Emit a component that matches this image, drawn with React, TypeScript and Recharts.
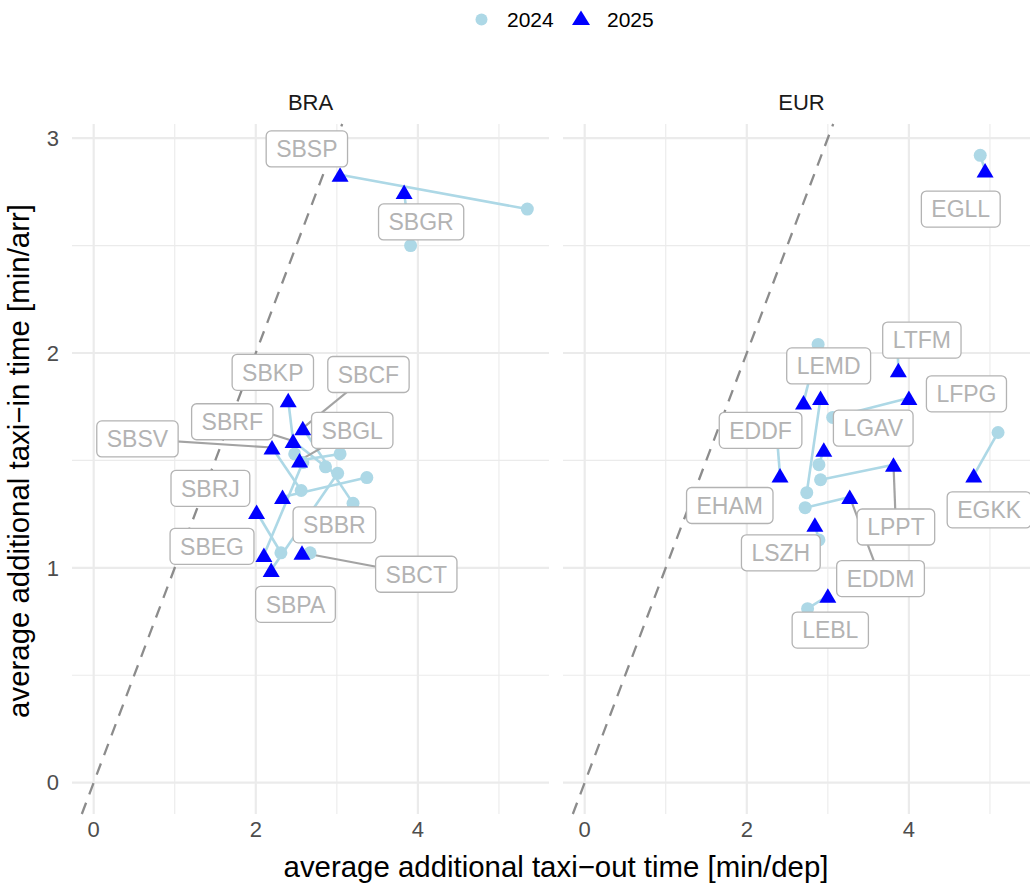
import React from 'react';
import { ComposedChart, Scatter, XAxis, YAxis, ReferenceLine } from 'recharts';

// ---- data ----
const BRA_AIRPORTS = ['SBSP', 'SBGR', 'SBKP', 'SBCF', 'SBRF', 'SBSV', 'SBGL', 'SBEG', 'SBPA', 'SBBR', 'SBRJ', 'SBCT'];
const BRA_X_2024 = [5.35, 3.91, 2.48, 3.2, 2.86, 2.56, 3.04, 2.58, 3.01, 3.37, 2.31, 2.67];
const BRA_Y_2024 = [2.67, 2.5, 1.53, 1.3, 1.47, 1.36, 1.53, 1.49, 1.44, 1.42, 1.07, 1.07];
const BRA_X_2025 = [3.04, 3.83, 2.4, 2.58, 2.46, 2.2, 2.54, 2.1, 2.19, 2.33, 2.01, 2.57];
const BRA_Y_2025 = [2.83, 2.75, 1.78, 1.65, 1.59, 1.56, 1.5, 1.06, 0.99, 1.33, 1.26, 1.07];
const BRA_LABEL_X = [2.63, 4.04, 2.21, 3.39, 1.71, 0.54, 3.19, 1.46, 2.49, 2.97, 1.44, 3.98];
const BRA_LABEL_Y = [2.95, 2.61, 1.91, 1.9, 1.68, 1.6, 1.64, 1.1, 0.83, 1.2, 1.37, 0.97];
const BRA_LEADERS = ['SBSV', 'SBRF', 'SBCF', 'SBGL', 'SBCT'];

const EUR_AIRPORTS = ['EGLL', 'LTFM', 'LEMD', 'LFPG', 'EDDF', 'EHAM', 'LGAV', 'LPPT', 'EDDM', 'EGKK', 'LSZH', 'LEBL'];
const EUR_X_2024 = [4.88, 3.86, 2.88, 3.06, 2.37, 2.74, 2.89, 2.91, 2.72, 5.1, 2.89, 2.75];
const EUR_Y_2024 = [2.92, 2.03, 2.04, 1.7, 1.62, 1.35, 1.48, 1.41, 1.28, 1.63, 1.13, 0.81];
const EUR_X_2025 = [4.94, 3.87, 2.7, 4.0, 2.41, 2.91, 2.95, 3.81, 3.27, 4.8, 2.84, 3.0];
const EUR_Y_2025 = [2.85, 1.92, 1.77, 1.79, 1.43, 1.79, 1.55, 1.48, 1.33, 1.43, 1.2, 0.87];
const EUR_LABEL_X = [4.64, 4.16, 3.01, 4.71, 2.17, 1.79, 3.56, 3.84, 3.65, 4.99, 2.42, 3.03];
const EUR_LABEL_Y = [2.67, 2.06, 1.94, 1.81, 1.64, 1.29, 1.65, 1.19, 0.95, 1.27, 1.07, 0.71];
const EUR_LEADERS = ['LPPT', 'EDDM'];

const X_MAJOR = [0, 2, 4];
const X_MINOR = [1, 3, 5];
const Y_MAJOR = [0, 1, 2, 3];
const Y_MINOR = [0.5, 1.5, 2.5];

// shared scales (ggplot-style 5% expansion, range includes the 0,0 of the identity line)
const allX = [0, ...BRA_X_2024, ...BRA_X_2025, ...EUR_X_2024, ...EUR_X_2025];
const allY = [0, ...BRA_Y_2024, ...BRA_Y_2025, ...EUR_Y_2024, ...EUR_Y_2025];
const xMin = Math.min(...allX), xMax = Math.max(...allX);
const yMin = Math.min(...allY), yMax = Math.max(...allY);
const X_DOMAIN: [number, number] = [xMin - 0.05 * (xMax - xMin), xMax + 0.05 * (xMax - xMin)];
const Y_DOMAIN: [number, number] = [yMin - 0.05 * (yMax - yMin), yMax + 0.05 * (yMax - yMin)];

const FONT = '"Liberation Sans", Arial, Helvetica, sans-serif';
const LABEL_FONT = 23;
const LIGHT_BLUE = '#add8e6';
const GRID = '#ebebeb';

let ctx: CanvasRenderingContext2D | null = null;
const textWidth = (s: string) => {
  if (!ctx) ctx = document.createElement('canvas').getContext('2d');
  if (!ctx) return s.length * LABEL_FONT * 0.62;
  ctx.font = `${LABEL_FONT}px ${FONT}`;
  return ctx.measureText(s).width;
};

const Nothing = () => <g />;

const Dot = (props: any) => <circle cx={props.cx} cy={props.cy} r={6.5} fill={LIGHT_BLUE} />;

const Tri = (props: any) => {
  const { cx, cy } = props;
  return <path d={`M${cx},${cy - 7.5} L${cx + 8.5},${cy + 7} L${cx - 8.5},${cy + 7} Z`} fill="#0000ff" />;
};

const LabelBox = (props: any) => {
  const { cx, cy, payload } = props;
  const w = textWidth(payload.name) + 20;
  return (
    <g>
      <rect x={cx - w / 2} y={cy - 18} width={w} height={36} rx={5} fill="#fff" stroke="#b3b3b3" strokeWidth={1.3} />
      <text x={cx} y={cy + 8.3} textAnchor="middle" fontSize={LABEL_FONT} fill="#b3b3b3" fontFamily={FONT}>
        {payload.name}
      </text>
    </g>
  );
};

interface PanelProps {
  airports: string[];
  x24: number[];
  y24: number[];
  x25: number[];
  y25: number[];
  labX: number[];
  labY: number[];
  leaders: string[];
  showY: boolean;
  width: number;
  left: number;
  right: number;
}

function Panel({ airports, x24, y24, x25, y25, labX, labY, leaders, showY, width, left, right }: PanelProps) {
  const p24 = airports.map((name, i) => ({ name, x: x24[i], y: y24[i] }));
  const p25 = airports.map((name, i) => ({ name, x: x25[i], y: y25[i] }));
  const labels = airports.map((name, i) => ({ name, x: labX[i], y: labY[i] }));
  const lo = Math.max(X_DOMAIN[0], Y_DOMAIN[0]);
  const hi = Math.min(X_DOMAIN[1], Y_DOMAIN[1]);

  return (
    <ComposedChart width={width} height={887} margin={{ top: 124, right, bottom: 43, left }}>
      <XAxis
        type="number"
        dataKey="x"
        domain={X_DOMAIN}
        ticks={X_MAJOR}
        allowDataOverflow
        axisLine={false}
        tickLine={false}
        tickSize={0}
        tickMargin={7}
        height={30}
        tick={{ fill: '#4d4d4d', fontSize: 22, fontFamily: FONT }}
      />
      <YAxis
        type="number"
        dataKey="y"
        domain={Y_DOMAIN}
        ticks={Y_MAJOR}
        allowDataOverflow
        hide={!showY}
        width={60}
        axisLine={false}
        tickLine={false}
        tickSize={0}
        tickMargin={13}
        tick={{ fill: '#4d4d4d', fontSize: 22, fontFamily: FONT }}
      />
      {X_MINOR.map((v) => (
        <ReferenceLine key={'xn' + v} x={v} stroke={GRID} strokeWidth={1.1} />
      ))}
      {Y_MINOR.map((v) => (
        <ReferenceLine key={'yn' + v} y={v} stroke={GRID} strokeWidth={1.1} />
      ))}
      {X_MAJOR.map((v) => (
        <ReferenceLine key={'xj' + v} x={v} stroke={GRID} strokeWidth={2.2} />
      ))}
      {Y_MAJOR.map((v) => (
        <ReferenceLine key={'yj' + v} y={v} stroke={GRID} strokeWidth={2.2} />
      ))}
      <ReferenceLine
        segment={[{ x: lo, y: lo }, { x: hi, y: hi }]}
        stroke="#8c8c8c"
        strokeWidth={2.3}
        strokeDasharray="12 9"
        ifOverflow="visible"
      />
      {airports.map((a, i) => (
        <Scatter
          key={'ln' + a}
          data={[p24[i], p25[i]]}
          line={{ stroke: LIGHT_BLUE, strokeWidth: 2.6 }}
          shape={Nothing}
          isAnimationActive={false}
        />
      ))}
      {airports
        .map((a, i) => ({ a, i }))
        .filter(({ a }) => leaders.includes(a))
        .map(({ a, i }) => (
          <Scatter
            key={'sg' + a}
            data={[labels[i], p25[i]]}
            line={{ stroke: '#a3a3a3', strokeWidth: 2.2 }}
            shape={Nothing}
            isAnimationActive={false}
          />
        ))}
      <Scatter data={p24} shape={Dot} isAnimationActive={false} />
      <Scatter data={p25} shape={Tri} isAnimationActive={false} />
      <Scatter data={labels} shape={LabelBox} isAnimationActive={false} />
    </ComposedChart>
  );
}

export default function App() {
  return (
    <div
      style={{
        position: 'absolute',
        left: 0,
        top: 0,
        width: 1030,
        height: 887,
        overflow: 'hidden',
        background: '#fff',
        fontFamily: FONT,
      }}
    >
      <svg width={1030} height={887} style={{ position: 'absolute', left: 0, top: 0 }}>
        {/* legend */}
        <circle cx={481.5} cy={19.5} r={6} fill={LIGHT_BLUE} />
        <text x={507} y={27} fontSize={21} fill="#000">2024</text>
        <path d="M581,10.5 L590,25 L572,25 Z" fill="#0000ff" />
        <text x={607} y={27} fontSize={21} fill="#000">2025</text>
        {/* strip titles */}
        <text x={310.5} y={110} fontSize={22} textAnchor="middle" fill="#1a1a1a">BRA</text>
        <text x={801.5} y={110} fontSize={22} textAnchor="middle" fill="#1a1a1a">EUR</text>
        {/* axis titles */}
        <text x={556} y={877} fontSize={29.4} textAnchor="middle" fill="#000">
          average additional taxi−out time [min/dep]
        </text>
        <text x={29} y={461} fontSize={29.4} textAnchor="middle" fill="#000" transform="rotate(-90 29 461)">
          average additional taxi−in time [min/arr]
        </text>
      </svg>
      <div style={{ position: 'absolute', left: 0, top: 0 }}>
        <Panel
          airports={BRA_AIRPORTS}
          x24={BRA_X_2024}
          y24={BRA_Y_2024}
          x25={BRA_X_2025}
          y25={BRA_Y_2025}
          labX={BRA_LABEL_X}
          labY={BRA_LABEL_Y}
          leaders={BRA_LEADERS}
          showY
          width={560}
          left={12}
          right={11}
        />
      </div>
      <div style={{ position: 'absolute', left: 553, top: 0 }}>
        <Panel
          airports={EUR_AIRPORTS}
          x24={EUR_X_2024}
          y24={EUR_Y_2024}
          x25={EUR_X_2025}
          y25={EUR_Y_2025}
          labX={EUR_LABEL_X}
          labY={EUR_LABEL_Y}
          leaders={EUR_LEADERS}
          showY={false}
          width={500}
          left={10}
          right={13}
        />
      </div>
    </div>
  );
}
